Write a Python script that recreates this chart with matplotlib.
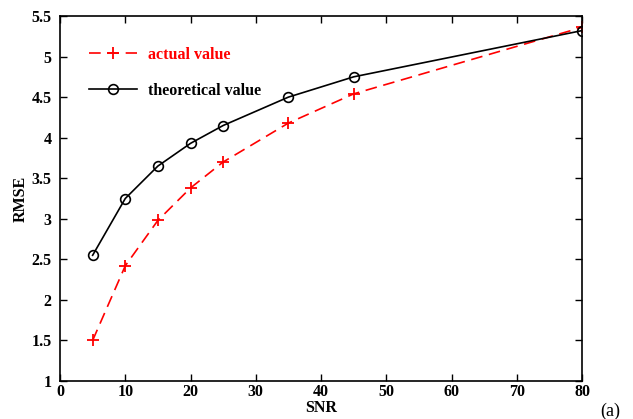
import matplotlib.pyplot as plt

plt.rcParams['font.family'] = 'Liberation Serif'
plt.rcParams['font.weight'] = 'bold'

snr = [5, 10, 15, 20, 25, 35, 45, 80]
actual = [1.50, 2.42, 2.98, 3.38, 3.70, 4.18, 4.54, 5.36]
theoretical = [2.55, 3.25, 3.65, 3.93, 4.15, 4.50, 4.75, 5.32]

fig = plt.figure(figsize=(6.33, 4.19), dpi=100)
ax = fig.add_axes([0.0948, 0.0907, 0.8247, 0.8711])

ax.plot(snr, actual, color='red', linestyle=(0, (7, 4)), linewidth=1.2,
        marker='+', markersize=9, markeredgewidth=1.3, label='actual value')
ax.plot(snr, theoretical, color='black', linewidth=1.2,
        marker='o', markersize=7, markerfacecolor='none', markeredgewidth=1.2,
        label='theoretical value')

ax.set_xlim(0, 80)
ax.set_ylim(1, 5.5)
ax.set_xticks(range(0, 81, 10))
ax.set_yticks([1, 1.5, 2, 2.5, 3, 3.5, 4, 4.5, 5, 5.5])
ax.set_yticklabels(['1', '1.5', '2', '2.5', '3', '3.5', '4', '4.5', '5', '5.5'])
ax.tick_params(direction='in', top=True, right=True, labelsize=11.5, length=5, width=1)
ax.tick_params(axis='y', pad=6)
ax.tick_params(axis='x', pad=2)
for s in ax.spines.values():
    s.set_linewidth(1.2)

ax.set_xlabel('SNR', fontsize=11.5, fontweight='bold', labelpad=0)
ax.set_ylabel('RMSE', fontsize=11.5, fontweight='bold', labelpad=2)

leg = ax.legend(loc='upper left', frameon=False, fontsize=11.5, handlelength=3.0,
                bbox_to_anchor=(0.028, 0.955), labelspacing=1.25, handletextpad=0.7)
for txt, c in zip(leg.get_texts(), ['red', 'black']):
    txt.set_color(c)

fig.text(0.948, 0.008, '(a)', fontsize=13, fontweight='normal')

fig.savefig('out.png', dpi=100)
